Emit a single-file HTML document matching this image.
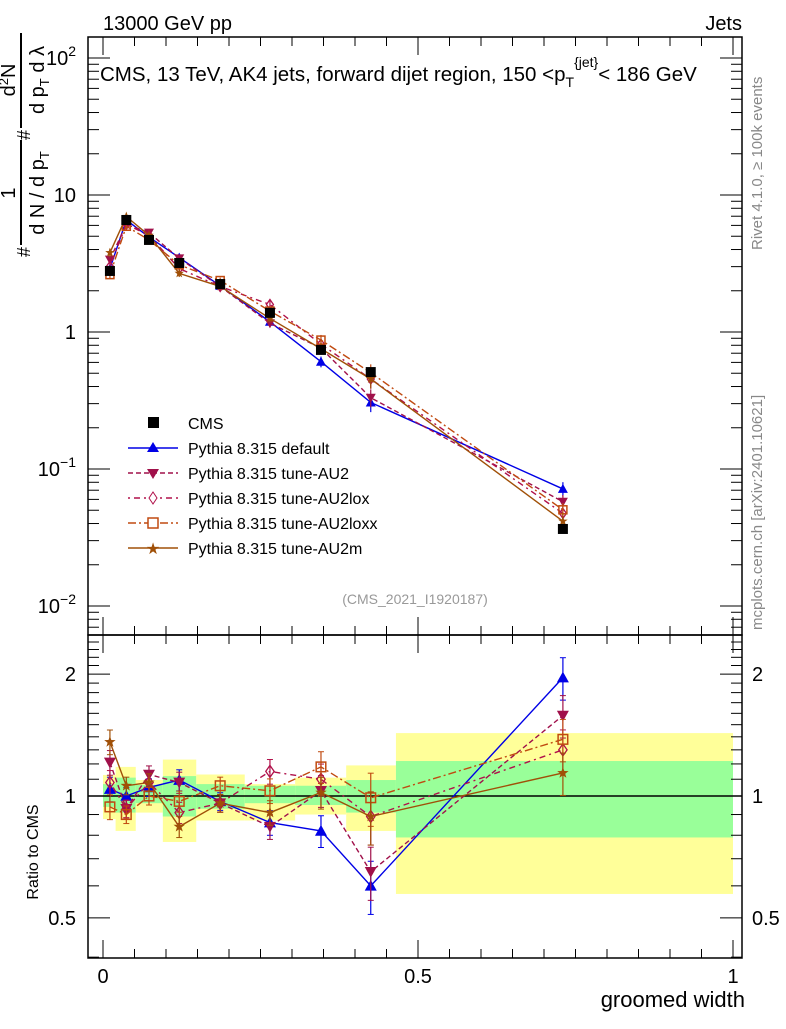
<!DOCTYPE html>
<html><head><meta charset="utf-8"><style>
body{margin:0;background:#fff;width:786px;height:1024px;overflow:hidden}
svg text{font-family:"Liberation Sans",sans-serif}
</style></head><body>
<svg id="c" width="786" height="1024"></svg>
<script>
const xs=[0.011,0.037,0.073,0.121,0.186,0.265,0.346,0.425,0.730];
const binEdges=[0,0.02,0.052,0.095,0.148,0.225,0.305,0.386,0.465,1.0];
const cmsVals=[2.79,6.57,4.7,3.19,2.24,1.38,0.74,0.51,0.0365];
const yelUp=[1.127,1.18,1.095,1.23,1.13,1.07,1.11,1.19,1.43];
const yelDn=[0.877,0.82,0.91,0.77,0.87,0.87,0.9,0.82,0.573];
const grnUp=[1.07,1.11,1.065,1.12,1.07,1.06,1.06,1.095,1.22];
const grnDn=[0.94,0.91,0.96,0.89,0.93,0.96,0.95,0.91,0.79];
const rDefault=[1.04,1.0,1.05,1.095,0.97,0.86,0.82,0.60,1.96];
const rAU2=[1.21,0.93,1.13,1.08,0.96,0.84,1.03,0.65,1.58];
const rAU2lox=[1.08,0.93,1.08,0.91,0.96,1.15,1.10,0.89,1.30];
const rAU2loxx=[0.94,0.90,1.0,0.97,1.06,1.03,1.18,0.99,1.38];
const rAU2m=[1.36,1.06,1.08,0.84,0.96,0.91,1.02,0.89,1.14];
const relErr=[0.07,0.05,0.05,0.06,0.05,0.07,0.09,0.15,0.12];
const seriesNames=["Pythia 8.315 default","Pythia 8.315 tune-AU2","Pythia 8.315 tune-AU2lox","Pythia 8.315 tune-AU2loxx","Pythia 8.315 tune-AU2m"];

const NS="http://www.w3.org/2000/svg";const svg=document.getElementById('c');
function el(t,a,p){const e=document.createElementNS(NS,t);for(const k in a)e.setAttribute(k,a[k]);(p||svg).appendChild(e);return e;}
const L=88,R=742,T=37,MB=635,RB=958;
const X=v=>103+630*v;
const YM=v=>332-137*Math.log10(v);
const YR=v=>796-405*Math.log10(v);

for(let i=0;i<9;i++){
 let b=el('rect',{x:X(binEdges[i]),y:YR(yelUp[i]),width:X(binEdges[i+1])-X(binEdges[i]),height:YR(yelDn[i])-YR(yelUp[i]),fill:'#ffff99'});
 
 let g=el('rect',{x:X(binEdges[i]),y:YR(grnUp[i]),width:X(binEdges[i+1])-X(binEdges[i]),height:YR(grnDn[i])-YR(grnUp[i]),fill:'#99ff99'});
 
}
el('line',{x1:L,x2:R,y1:YR(1),y2:YR(1),stroke:'#000','stroke-width':1.5});

const styles=[
 {c:'#0000e6',d:'',m:'tri'},
 {c:'#a0104a',d:'5,3',m:'tridn'},
 {c:'#b0104a',d:'2,4,6,4',m:'dia'},
 {c:'#c04a10',d:'8,3,2,3',m:'sq'},
 {c:'#a05008',d:'',m:'star'}];
const ratios=[rDefault,rAU2,rAU2lox,rAU2loxx,rAU2m];

function marker(t,x,y,c,parent,s){
 s=s||6;let e;
 if(t==='tri')e=el('polygon',{points:`${x},${y-s} ${x-s},${y+s*0.8} ${x+s},${y+s*0.8}`,fill:c},parent);
 else if(t==='tridn')e=el('polygon',{points:`${x},${y+s} ${x-s},${y-s*0.8} ${x+s},${y-s*0.8}`,fill:c},parent);
 else if(t==='dia')e=el('polygon',{points:`${x},${y-s} ${x-s*0.7},${y} ${x},${y+s} ${x+s*0.7},${y}`,fill:'none',stroke:c,'stroke-width':1.3},parent);
 else if(t==='sq')e=el('rect',{x:x-s*0.8,y:y-s*0.8,width:s*1.6,height:s*1.6,fill:'none',stroke:c,'stroke-width':1.5},parent);
 else if(t==='star'){let p=[];for(let k=0;k<10;k++){const r=k%2?s*0.4:s;const a=-Math.PI/2+k*Math.PI/5;p.push((x+r*Math.cos(a)).toFixed(1)+','+(y+r*Math.sin(a)).toFixed(1));}e=el('polygon',{points:p.join(' '),fill:c},parent);}
 else e=el('rect',{x:x-5,y:y-5,width:10,height:10,fill:'#000'},parent);
 return e;
}

ratios.forEach((rs,si)=>{
 const st=styles[si];
 const gm=el('g',{});
 const gr=el('g',{});
 el('polyline',{points:xs.map((x,i)=>X(x)+','+YM(cmsVals[i]*rs[i])).join(' '),fill:'none',stroke:st.c,'stroke-width':1.4,'stroke-dasharray':st.d},gm);
 el('polyline',{points:xs.map((x,i)=>X(x)+','+YR(rs[i])).join(' '),fill:'none',stroke:st.c,'stroke-width':1.4,'stroke-dasharray':st.d},gr);
 xs.forEach((x,i)=>{
  const v=cmsVals[i]*rs[i],e=relErr[i];
  el('line',{x1:X(x),x2:X(x),y1:YM(v*(1+e)),y2:YM(v*(1-e)),stroke:st.c,'stroke-width':1.2},gm);
  el('line',{x1:X(x),x2:X(x),y1:YR(rs[i]*(1+e)),y2:YR(rs[i]*(1-e)),stroke:st.c,'stroke-width':1.2},gr);
  [1+e,1-e].forEach(f=>el('line',{x1:X(x)-3,x2:X(x)+3,y1:YR(rs[i]*f),y2:YR(rs[i]*f),stroke:st.c},gr));
  marker(st.m,X(x),YM(v),st.c,gm,5);
  marker(st.m,X(x),YR(rs[i]),st.c,gr,6);
 });
});
xs.forEach((x,i)=>{const m=marker('cms',X(x),YM(cmsVals[i]));});

el('rect',{x:L,y:T,width:R-L,height:MB-T,fill:'none',stroke:'#000','stroke-width':1.5});
el('rect',{x:L,y:MB,width:R-L,height:RB-MB,fill:'none',stroke:'#000','stroke-width':1.5});
for(let d=-3;d<=2;d++){for(let k=1;k<10;k++){const v=k*Math.pow(10,d);const y=YM(v);if(y<T||y>MB)continue;const len=k===1?22:11;
 el('line',{x1:L,x2:L+len,y1:y,y2:y,stroke:'#000'});el('line',{x1:R,x2:R-len,y1:y,y2:y,stroke:'#000'});}}
const mainTickVals=[0.01,0.1,1,10,100];
const mainTickLbl=[['10','−2'],['10','−1'],['1',''],['10',''],['10','2']];
mainTickVals.forEach((v,i)=>{const t=el('text',{x:76,y:YM(v)+7,'font-size':20,'text-anchor':'end'});
 t.textContent=mainTickLbl[i][0];if(mainTickLbl[i][1]){const s=el('tspan',{dy:-9,'font-size':14},t);s.textContent=mainTickLbl[i][1];}});
for(let v=0.4;v<=2.5;v+=0.1){const y=YR(v);if(y<MB||y>RB)continue;const maj=Math.abs(v-0.5)<1e-6||Math.abs(v-1)<1e-6||Math.abs(v-2)<1e-6;const len=maj?22:11;
 el('line',{x1:L,x2:L+len,y1:y,y2:y,stroke:'#000'});el('line',{x1:R,x2:R-len,y1:y,y2:y,stroke:'#000'});}
const ratioTicks=[0.5,1,2];
ratioTicks.forEach(v=>{const a=el('text',{x:76,y:YR(v)+7,'font-size':20,'text-anchor':'end'});a.textContent=String(v);
 const b=el('text',{x:752,y:YR(v)+7,'font-size':20});b.textContent=String(v);});
for(let k=0;k<=20;k++){const v=k*0.05;const x=X(v);const len=k%10===0?18:9;
 el('line',{x1:x,x2:x,y1:RB,y2:RB-len,stroke:'#000'});el('line',{x1:x,x2:x,y1:MB,y2:MB-len,stroke:'#000'});el('line',{x1:x,x2:x,y1:MB,y2:MB+len,stroke:'#000'});el('line',{x1:x,x2:x,y1:T,y2:T+len,stroke:'#000'});}
const xTicks=[0,0.5,1];
xTicks.forEach(v=>{const t=el('text',{x:X(v),y:983,'font-size':20,'text-anchor':'middle'});t.textContent=String(v);});
</script>
<svg width="786" height="1024" style="position:absolute;left:0;top:0">
<text x="100" y="81" font-size="20.5">CMS, 13 TeV, AK4 jets, forward dijet region, 150 &lt;p<tspan font-size="14" dy="6">T</tspan><tspan font-size="14" dy="-20">{jet}</tspan><tspan dy="14">&lt; 186 GeV</tspan></text>
<text x="103" y="30" font-size="20">13000 GeV pp</text>
<text x="742" y="30" font-size="20" text-anchor="end">Jets</text>
<text x="415" y="604" font-size="14" fill="#999" text-anchor="middle">(CMS_2021_I1920187)</text>
<text x="745" y="1007" font-size="22" text-anchor="end">groomed width</text>
<text transform="translate(38,852) rotate(-90)" font-size="16" text-anchor="middle">Ratio to CMS</text>
<g transform="rotate(-90)" font-size="20">
<text x="-257" y="30" font-size="18">#</text>
<line x1="-245" x2="-140" y1="21" y2="21" stroke="#000" stroke-width="2"/>
<text x="-193" y="15" text-anchor="middle">1</text>
<text x="-193" y="44" text-anchor="middle">d N / d p<tspan font-size="13" dy="5">T</tspan></text>
<text x="-140" y="30" font-size="18">#</text>
<line x1="-128" x2="-33" y1="21" y2="21" stroke="#000" stroke-width="2"/>
<text x="-80" y="15" text-anchor="middle">d<tspan font-size="13" dy="-7">2</tspan><tspan dy="7">N</tspan></text>
<text x="-80" y="44" text-anchor="middle">d p<tspan font-size="13" dy="5">T</tspan><tspan dy="-5"> d λ</tspan></text>
</g>
<text transform="translate(762,250) rotate(-90)" font-size="15" fill="#888">Rivet 4.1.0, ≥ 100k events</text>
<text transform="translate(762,630) rotate(-90)" font-size="15" fill="#888">mcplots.cern.ch [arXiv:2401.10621]</text>
<g font-size="16">
<rect x="148" y="417" width="11" height="11" fill="#000"/>
<text x="188" y="429">CMS</text>
<line x1="128" x2="178" y1="448" y2="448" stroke="#0000e6" stroke-width="1.4"/><polygon points="153,442 147,452 159,452" fill="#0000e6"/>
<text x="188" y="454">Pythia 8.315 default</text>
<line x1="128" x2="178" y1="473" y2="473" stroke="#a0104a" stroke-width="1.4" stroke-dasharray="5,3"/><polygon points="153,479 147,469 159,469" fill="#a0104a"/>
<text x="188" y="479">Pythia 8.315 tune-AU2</text>
<line x1="128" x2="178" y1="498" y2="498" stroke="#b0104a" stroke-width="1.4" stroke-dasharray="2,4,6,4"/><polygon points="153,492 149,498 153,504 157,498" fill="#fff" stroke="#b0104a"/>
<text x="188" y="504">Pythia 8.315 tune-AU2lox</text>
<line x1="128" x2="178" y1="523" y2="523" stroke="#c04a10" stroke-width="1.4" stroke-dasharray="8,3,2,3"/><rect x="148" y="518" width="10" height="10" fill="#fff" stroke="#c04a10" stroke-width="1.5"/>
<text x="188" y="529">Pythia 8.315 tune-AU2loxx</text>
<line x1="128" x2="178" y1="548" y2="548" stroke="#a05008" stroke-width="1.4"/><text x="153" y="554" font-size="16" fill="#a05008" text-anchor="middle">★</text>
<text x="188" y="554">Pythia 8.315 tune-AU2m</text>
</g>
</svg>
</body></html>
